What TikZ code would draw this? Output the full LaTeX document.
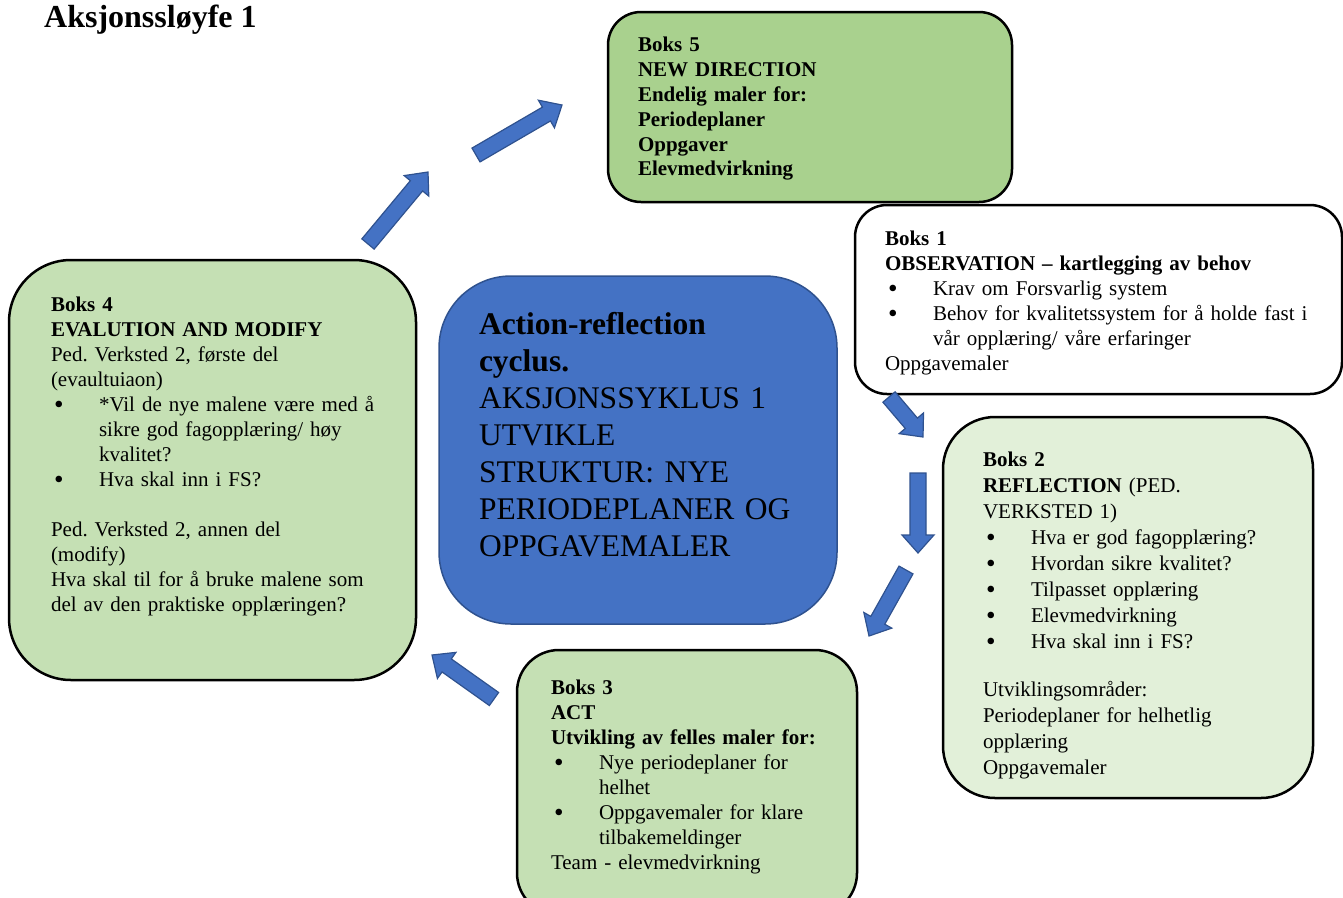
\documentclass[tikz,border=0pt]{standalone}
\usepackage{fontspec}
\setmainfont{Liberation Serif}
\usepackage{tikz}
\usetikzlibrary{calc,positioning}
\usepackage{xcolor}
\definecolor{cycleblue}{HTML}{4472C4}
\definecolor{cycleedge}{HTML}{2F528F}
\definecolor{greendark}{HTML}{A9D18E}
\definecolor{greenmid}{HTML}{C5E0B4}
\definecolor{greenlight}{HTML}{E2F0D9}
\frenchspacing

\newcommand{\bul}{\makebox[48pt][l]{\hspace{3pt}\smash{\raisebox{-2.5pt}{\scalebox{1.3}{\textbullet}}}}}
\newcommand{\ind}{\hspace*{48pt}}
% block arrow from tail coordinate #1 to tip coordinate #2
\newcommand{\blockarrow}[2]{%
  \coordinate (#1h) at ($(#2)!18pt!(#1)$);
  \draw[flow] ($(#1)!8pt!90:(#2)$) -- ($(#1h)!8pt!90:(#2)$) -- ($(#1h)!16pt!90:(#2)$)
    -- (#2) -- ($(#1h)!16pt!-90:(#2)$) -- ($(#1h)!8pt!-90:(#2)$) -- ($(#1)!8pt!-90:(#2)$) -- cycle;}

\begin{document}
\begin{tikzpicture}[x=1pt, y=-1pt,
  box/.style={draw=black, line width=2.5pt, inner sep=0pt, outer sep=0pt, rectangle},
  boxtext/.style={inner sep=0pt, outer sep=0pt, text width=#1, align=left,
    font=\fontsize{21}{25}\selectfont, execute at begin node=\setlength{\parindent}{0pt}},
  flow/.style={fill=cycleblue, draw=cycleedge, line width=1.2pt, line join=miter}]
  \useasboundingbox (0,0) rectangle (1343,897);
  \clip (0,0) rectangle (1343,897);

  \node[anchor=base west, inner sep=0pt, font=\fontsize{32}{38}\selectfont\bfseries] (title) at (44,27) {Aksjonssløyfe 1};

  % Boks 5
  \node[box, fill=greendark, rounded corners=33pt, minimum width=404pt, minimum height=190pt] (b5) at (810,107) {};
  \node[boxtext=340pt, font=\fontsize{21}{24.8}\selectfont\bfseries, below right=22.6pt and 30pt of b5.north west] (t5)
    {\strut Boks 5\\
     NEW DIRECTION\\
     Endelig maler for:\\
     Periodeplaner\\
     Oppgaver\\
     Elevmedvirkning};

  % Boks 1
  \node[box, fill=white, rounded corners=32pt, minimum width=487pt, minimum height=189pt] (b1) at (1098.5,299.5) {};
  \node[boxtext=445pt, below right=22.5pt and 30pt of b1.north west] (t1)
    {\strut\textbf{Boks 1}\\
     \textbf{OBSERVATION – kartlegging av behov}\\
     \bul Krav om Forsvarlig system\\
     \bul Behov for kvalitetssystem for å holde fast i\\
     \ind vår opplæring/ våre erfaringer\\
     Oppgavemaler};

  % Boks 2
  \node[box, fill=greenlight, rounded corners=52pt, minimum width=370pt, minimum height=381pt] (b2) at (1128,607.5) {};
  \node[boxtext=320pt, font=\fontsize{21}{26}\selectfont, below right=30.8pt and 40pt of b2.north west] (t2)
    {\strut\textbf{Boks 2}\\
     \textbf{REFLECTION} (PED.\\
     VERKSTED 1)\\
     \bul Hva er god fagopplæring?\\
     \bul Hvordan sikre kvalitet?\\
     \bul Tilpasset opplæring\\
     \bul Elevmedvirkning\\
     \bul Hva skal inn i FS?\\[22pt]
     Utviklingsområder:\\
     Periodeplaner for helhetlig\\
     opplæring\\
     Oppgavemaler};

  % Boks 3
  \node[box, fill=greenmid, rounded corners=42pt, minimum width=340pt, minimum height=265pt] (b3) at (687,782.5) {};
  \node[boxtext=295pt, below right=26.5pt and 34pt of b3.north west] (t3)
    {\strut\textbf{Boks 3}\\
     \textbf{ACT}\\
     \textbf{Utvikling av felles maler for:}\\
     \bul Nye periodeplaner for\\
     \ind helhet\\
     \bul Oppgavemaler for klare\\
     \ind tilbakemeldinger\\
     Team - elevmedvirkning};

  % Boks 4
  \node[box, fill=greenmid, rounded corners=62pt, minimum width=407pt, minimum height=420pt] (b4) at (212.5,470) {};
  \node[boxtext=350pt, below right=33.5pt and 42pt of b4.north west] (t4)
    {\strut\textbf{Boks 4}\\
     \textbf{EVALUTION AND MODIFY}\\
     Ped. Verksted 2, første del\\
     (evaultuiaon)\\
     \bul *Vil de nye malene være med å\\
     \ind sikre god fagopplæring/ høy\\
     \ind kvalitet?\\
     \bul Hva skal inn i FS?\\[25pt]
     Ped. Verksted 2, annen del\\
     (modify)\\
     Hva skal til for å bruke malene som\\
     del av den praktiske opplæringen?};

  % centre of the cycle
  \node[box, draw=cycleedge, line width=1.5pt, fill=cycleblue, rounded corners=72pt, minimum width=398pt, minimum height=348pt] (cyc) at (638,450) {};
  \node[boxtext=345pt, font=\fontsize{31.5}{37}\selectfont, below right=32.1pt and 40pt of cyc.north west] (tc)
    {\strut\textbf{Action-reflection}\\
     \textbf{cyclus.}\\
     AKSJONSSYKLUS 1\\
     UTVIKLE\\
     STRUKTUR: NYE\\
     PERIODEPLANER OG\\
     OPPGAVEMALER};

  % arrows round the cycle
  \coordinate (a1s) at (368,244);  \coordinate (a1e) at (428,172);
  \coordinate (a2s) at (476,155);  \coordinate (a2e) at (562,105);
  \coordinate (a3s) at (889,397);  \coordinate (a3e) at (923,437);
  \coordinate (a4s) at (918,473);  \coordinate (a4e) at (918,553);
  \coordinate (a5s) at (906,570);  \coordinate (a5e) at (869,636);
  \coordinate (a6s) at (494,699);  \coordinate (a6e) at (432,655);
  \blockarrow{a1s}{a1e}
  \blockarrow{a2s}{a2e}
  \blockarrow{a3s}{a3e}
  \blockarrow{a4s}{a4e}
  \blockarrow{a5s}{a5e}
  \blockarrow{a6s}{a6e}
\end{tikzpicture}
\end{document}
